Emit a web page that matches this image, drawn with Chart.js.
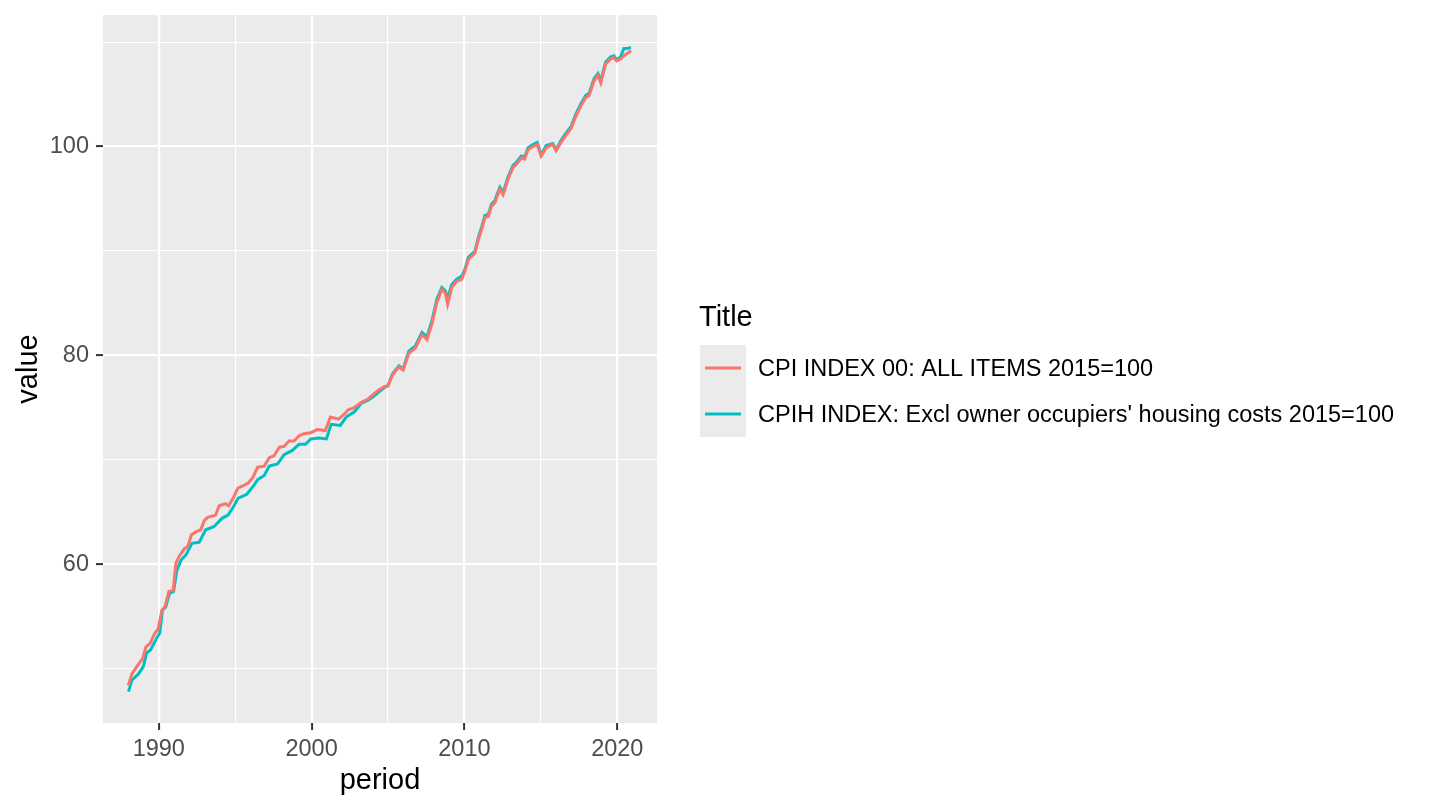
<!DOCTYPE html>
<html>
<head>
<meta charset="utf-8">
<script src="https://cdn.jsdelivr.net/npm/chart.js@4.4.0/dist/chart.umd.min.js"></script>
<style>
  html, body { margin: 0; padding: 0; background: #ffffff; }
  #wrap { width: 1440px; height: 810px; }
</style>
</head>
<body>
<div id="wrap"><canvas id="lineChart" width="1440" height="810"></canvas></div>
<script>
// values (decimal year, index value)
var cpiPeriod = [1988.0, 1988.24, 1988.56, 1988.95, 1989.16, 1989.42, 1989.74, 1989.96, 1990.2, 1990.4,
    1990.66, 1990.94, 1991.12, 1991.35, 1991.67, 1991.9, 1992.13, 1992.42, 1992.75, 1992.98,
    1993.2, 1993.71, 1993.95, 1994.36, 1994.57, 1994.89, 1995.17, 1995.5, 1995.87, 1996.15,
    1996.47, 1996.9, 1997.23, 1997.55, 1997.88, 1998.2, 1998.53, 1998.85, 1999.18, 1999.5,
    1999.94, 2000.37, 2000.9, 2001.23, 2001.77, 2002.15, 2002.4, 2002.8, 2003.23, 2003.66,
    2003.98, 2004.31, 2004.74, 2005.0, 2005.28, 2005.71, 2005.99, 2006.36, 2006.79, 2007.22,
    2007.55, 2007.87, 2008.2, 2008.52, 2008.74, 2008.9, 2009.17, 2009.49, 2009.83, 2010.04,
    2010.26, 2010.69, 2010.91, 2011.13, 2011.34, 2011.56, 2011.77, 2011.99, 2012.1, 2012.32,
    2012.53, 2012.86, 2013.18, 2013.4, 2013.72, 2013.94, 2014.16, 2014.48, 2014.76, 2015.02,
    2015.35, 2015.78, 2016.0, 2016.32, 2016.75, 2016.97, 2017.29, 2017.62, 2017.94, 2018.16,
    2018.48, 2018.74, 2018.92, 2019.24, 2019.57, 2019.78, 2019.96, 2020.22, 2020.43, 2020.65,
    2020.9];
var cpiValues = [48.4, 49.5, 50.2, 51.0, 52.1, 52.4, 53.4, 53.8, 55.6, 55.9,
    57.4, 57.5, 60.1, 60.8, 61.5, 61.7, 62.8, 63.1, 63.3, 64.2,
    64.5, 64.7, 65.6, 65.8, 65.6, 66.4, 67.3, 67.5, 67.8, 68.3,
    69.3, 69.4, 70.2, 70.4, 71.2, 71.3, 71.8, 71.8, 72.3, 72.5,
    72.6, 72.9, 72.8, 74.1, 73.9, 74.4, 74.8, 75.0, 75.5, 75.8,
    76.2, 76.6, 77.0, 77.1, 78.1, 78.9, 78.6, 80.2, 80.7, 82.0,
    81.5, 83.0, 85.1, 86.3, 86.0, 84.9, 86.5, 87.1, 87.3, 88.1,
    89.2, 89.8, 91.1, 92.1, 93.2, 93.3, 94.3, 94.6, 95.1, 95.9,
    95.4, 96.9, 98.0, 98.3, 98.9, 98.8, 99.7, 100.0, 100.2, 99.1,
    99.9, 100.2, 99.6, 100.4, 101.3, 101.7, 102.9, 103.9, 104.7, 104.9,
    106.3, 106.8, 106.1, 107.9, 108.4, 108.5, 108.2, 108.4, 108.7, 108.9,
    109.2];

var cpihPeriod = [1988.02, 1988.24, 1988.67, 1988.99, 1989.2, 1989.46, 1989.85, 1990.06, 1990.24, 1990.45,
    1990.7, 1990.97, 1991.18, 1991.46, 1991.78, 1992.17, 1992.64, 1993.07, 1993.6, 1994.14,
    1994.53, 1994.89, 1995.17, 1995.76, 1996.2, 1996.47, 1996.9, 1997.23, 1997.77, 1998.2,
    1998.74, 1999.18, 1999.6, 1999.94, 2000.48, 2000.97, 2001.28, 2001.88, 2002.26, 2002.8,
    2003.23, 2003.66, 2003.98, 2004.31, 2004.74, 2005.0, 2005.28, 2005.71, 2005.99, 2006.36,
    2006.79, 2007.22, 2007.55, 2007.87, 2008.2, 2008.52, 2008.74, 2008.9, 2009.17, 2009.49,
    2009.83, 2010.04, 2010.26, 2010.69, 2010.91, 2011.13, 2011.34, 2011.56, 2011.77, 2011.99,
    2012.1, 2012.32, 2012.53, 2012.86, 2013.18, 2013.4, 2013.72, 2013.94, 2014.16, 2014.48,
    2014.76, 2015.02, 2015.35, 2015.78, 2016.0, 2016.32, 2016.75, 2016.97, 2017.29, 2017.62,
    2017.94, 2018.16, 2018.48, 2018.74, 2018.92, 2019.24, 2019.57, 2019.78, 2019.96, 2020.22,
    2020.43, 2020.65, 2020.9];
var cpihValues = [47.8, 48.9, 49.5, 50.2, 51.5, 51.8, 52.9, 53.4, 55.6, 55.9,
    57.2, 57.4, 59.4, 60.4, 60.9, 62.0, 62.1, 63.3, 63.6, 64.4,
    64.7, 65.5, 66.3, 66.7, 67.5, 68.1, 68.5, 69.4, 69.6, 70.5,
    70.9, 71.5, 71.5, 72.0, 72.1, 72.0, 73.4, 73.3, 74.1, 74.6,
    75.4, 75.7, 76.0, 76.4, 76.9, 77.1, 78.2, 79.0, 78.7, 80.4,
    80.9, 82.2, 81.8, 83.3, 85.4, 86.5, 86.2, 85.5, 86.8, 87.3,
    87.6, 88.3, 89.4, 90.0, 91.3, 92.3, 93.4, 93.5, 94.5, 94.8,
    95.3, 96.1, 95.6, 97.1, 98.2, 98.5, 99.1, 99.0, 99.9, 100.2,
    100.4, 99.2, 100.1, 100.3, 99.7, 100.6, 101.5, 101.9, 103.1, 104.1,
    104.9, 105.1, 106.5, 107.0, 106.3, 108.1, 108.6, 108.7, 108.3, 108.6,
    109.4, 109.4, 109.5];

var seriesLabels = ['CPI INDEX 00: ALL ITEMS 2015=100',
    "CPIH INDEX: Excl owner occupiers' housing costs 2015=100"];
var seriesColors = ['#F8766D', '#00BFC4'];

var xGrid = [1990, 1995, 2000, 2005, 2010, 2015, 2020];
var xLabels = [1990, 2000, 2010, 2020];
var yGrid = [50, 60, 70, 80, 90, 100, 110];
var yLabels = [60, 80, 100];

var FONT = "'Liberation Sans', Arial, Helvetica, sans-serif";

function toPoints(xs, ys) {
    var pts = [];
    for (var i = 0; i < xs.length; i++) {
        pts.push({ x: xs[i], y: ys[i] });
    }
    return pts;
}

function isMajor(list, v) {
    return list.indexOf(v) !== -1;
}

// grey panel behind the grid
var panelBg = {
    id: 'panelBg',
    beforeDraw: function(chart) {
        var a = chart.chartArea;
        var ctx = chart.ctx;
        ctx.save();
        ctx.fillStyle = '#EBEBEB';
        ctx.fillRect(a.left, a.top, a.right - a.left, a.bottom - a.top);
        ctx.restore();
    }
};

// ggplot style legend on the right
var sideLegend = {
    id: 'sideLegend',
    afterDraw: function(chart) {
        var ctx = chart.ctx;
        var sets = chart.data.datasets;
        ctx.save();
        ctx.fillStyle = '#000000';
        ctx.font = '29px ' + FONT;
        ctx.textBaseline = 'middle';
        ctx.textAlign = 'left';
        ctx.fillText('Title', 699, 318);

        ctx.fillStyle = '#EBEBEB';
        ctx.fillRect(700, 345, 46, 92);

        ctx.font = '23.5px ' + FONT;
        for (var i = 0; i < sets.length; i++) {
            var cy = 368 + i * 46;
            ctx.strokeStyle = sets[i].borderColor;
            ctx.lineWidth = 2.8;
            ctx.beginPath();
            ctx.moveTo(705, cy);
            ctx.lineTo(741, cy);
            ctx.stroke();
            ctx.fillStyle = '#000000';
            ctx.fillText(sets[i].label, 758, cy + 2);
        }
        ctx.restore();
    }
};

var ctx = document.getElementById('lineChart');
var chart = new Chart(ctx, {
    type: 'line',
    data: {
        datasets: [{
            label: seriesLabels[0],
            data: toPoints(cpiPeriod, cpiValues),
            borderColor: seriesColors[0],
            borderWidth: 3,
            pointRadius: 0,
            tension: 0,
            fill: false
        }, {
            label: seriesLabels[1],
            data: toPoints(cpihPeriod, cpihValues),
            borderColor: seriesColors[1],
            borderWidth: 3,
            pointRadius: 0,
            tension: 0,
            fill: false
        }]
    },
    plugins: [panelBg, sideLegend],
    options: {
        responsive: false,
        animation: false,
        devicePixelRatio: 1,
        layout: { padding: { left: 0, top: 15, right: 783, bottom: 0 } },
        plugins: {
            legend: { display: false },
            tooltip: { enabled: false },
            title: { display: false }
        },
        scales: {
            x: {
                type: 'linear',
                min: 1986.35,
                max: 2022.6,
                border: { display: false },
                afterFit: function(scale) {
                    scale.height = 87;
                    scale.paddingLeft = 0;
                    scale.paddingRight = 0;
                },
                afterBuildTicks: function(scale) {
                    scale.ticks = xGrid.map(function(v) { return { value: v }; });
                },
                grid: {
                    color: '#FFFFFF',
                    lineWidth: function(c) { return c.tick && isMajor(xLabels, c.tick.value) ? 2.2 : 1.1; },
                    drawTicks: true,
                    tickLength: 7,
                    tickWidth: 2,
                    tickColor: function(c) { return c.tick && isMajor(xLabels, c.tick.value) ? '#333333' : 'rgba(0,0,0,0)'; }
                },
                ticks: {
                    autoSkip: false,
                    maxRotation: 0,
                    padding: 8,
                    color: '#4D4D4D',
                    font: { family: FONT, size: 23.5, lineHeight: 1 },
                    callback: function(v) { return isMajor(xLabels, v) ? String(v) : ''; }
                },
                title: {
                    display: true,
                    text: 'period',
                    color: '#000000',
                    font: { family: FONT, size: 29, lineHeight: 1 },
                    padding: { top: 0, bottom: 15 }
                }
            },
            y: {
                type: 'linear',
                min: 44.8,
                max: 112.6,
                border: { display: false },
                afterFit: function(scale) {
                    scale.width = 103;
                    scale.paddingTop = 0;
                    scale.paddingBottom = 0;
                },
                afterBuildTicks: function(scale) {
                    scale.ticks = yGrid.map(function(v) { return { value: v }; });
                },
                grid: {
                    color: '#FFFFFF',
                    lineWidth: function(c) { return c.tick && isMajor(yLabels, c.tick.value) ? 2.2 : 1.1; },
                    drawTicks: true,
                    tickLength: 7,
                    tickWidth: 2,
                    tickColor: function(c) { return c.tick && isMajor(yLabels, c.tick.value) ? '#333333' : 'rgba(0,0,0,0)'; }
                },
                ticks: {
                    autoSkip: false,
                    padding: 7,
                    color: '#4D4D4D',
                    font: { family: FONT, size: 23.5, lineHeight: 1 },
                    callback: function(v) { return isMajor(yLabels, v) ? String(v) : ''; }
                },
                title: {
                    display: true,
                    text: 'value',
                    color: '#000000',
                    font: { family: FONT, size: 29, lineHeight: 1 },
                    padding: { top: 14, bottom: 0 }
                }
            }
        }
    }
});
</script>
</body>
</html>
